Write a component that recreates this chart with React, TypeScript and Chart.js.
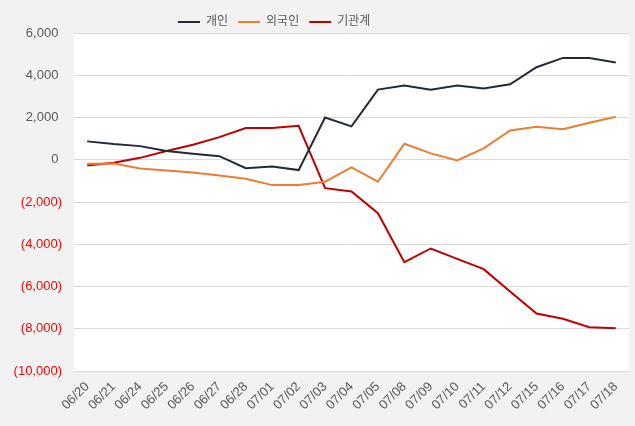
import React, { useEffect, useRef } from "react";
import { Chart, registerables } from "chart.js";

Chart.register(...registerables);

const dates = ["06/20","06/21","06/24","06/25","06/26","06/27","06/28","07/01","07/02","07/03","07/04","07/05","07/08","07/09","07/10","07/11","07/12","07/15","07/16","07/17","07/18"];
const individual = [870, 740, 645, 410, 280, 170, -400, -320, -490, 2000, 1580, 3320, 3520, 3320, 3520, 3370, 3570, 4380, 4820, 4820, 4600];
const foreign = [-190, -175, -410, -505, -600, -740, -900, -1200, -1200, -1040, -365, -1040, 760, 300, -30, 540, 1390, 1560, 1440, 1750, 2040];
const institution = [-270, -140, 90, 410, 710, 1070, 1500, 1500, 1610, -1345, -1500, -2530, -4850, -4200, -4690, -5180, -6240, -7280, -7530, -7930, -7980];
const seriesNames = ["개인", "외국인", "기관계"];
const seriesColors = ["#222a35", "#ed7d31", "#c00000"];

const FONT = "'Liberation Sans', 'Noto Sans CJK KR', sans-serif";

const fmt = (v: number) => {
  const s = Math.abs(v).toLocaleString("en-US");
  return v < 0 ? `(${s})` : v === 0 ? "0 " : `${s} `;
};

export default function App() {
  const ref = useRef<HTMLCanvasElement | null>(null);
  useEffect(() => {
    document.body.style.margin = "0";
    const canvas = ref.current!;
    const bgPlugin = {
      id: "plotBg",
      beforeDraw(chart: any) {
        const { ctx, chartArea } = chart;
        ctx.save();
        ctx.fillStyle = "#ffffff";
        ctx.fillRect(chartArea.left, chartArea.top, chartArea.right - chartArea.left, chartArea.bottom - chartArea.top);
        ctx.restore();
      },
    };
    const legendShift = {
      id: "legendShift",
      afterLayout(chart: any) {
        const lg = chart.legend;
        if (lg) {
          lg.left = 168;
          lg.top += 5;
          lg.bottom += 5;
        }
      },
    };
    const data = [individual, foreign, institution];
    const chart = new Chart(canvas, {
      type: "line",
      data: {
        labels: dates,
        datasets: data.map((d, i) => ({
          label: seriesNames[i],
          data: d,
          borderColor: seriesColors[i],
          backgroundColor: seriesColors[i],
          borderWidth: 2,
          pointRadius: 0,
          tension: 0,
        })),
      },
      options: {
        animation: false,
        responsive: true,
        maintainAspectRatio: false,
        layout: { padding: { top: 1, right: 6, left: 0, bottom: 0 } },
        plugins: {
          tooltip: { enabled: false },
          legend: {
            position: "top",
            align: "start",
            labels: {
              boxWidth: 22,
              boxHeight: 2,
              padding: 10,
              color: "#595959",
              font: { family: FONT, size: 12 },
              generateLabels(chart: any) {
                return chart.data.datasets.map((ds: any, i: number) => ({
                  text: ds.label,
                  fillStyle: ds.borderColor,
                  strokeStyle: ds.borderColor,
                  lineWidth: 0,
                  fontColor: "#595959",
                  datasetIndex: i,
                  hidden: false,
                }));
              },
            },
          },
        },
        scales: {
          x: {
            offset: true,
            grid: { display: false, drawTicks: false },
            border: { display: true, color: "#d9d9d9" },
            ticks: {
              color: "#595959",
              font: { family: FONT, size: 13 },
              maxRotation: 45,
              minRotation: 45,
              autoSkip: false,
              padding: 8,
            },
            afterFit(scale: any) {
              scale.height = 55;
            },
          },
          y: {
            min: -10000,
            max: 6000,
            grid: { color: "#d9d9d9", drawTicks: false },
            border: { display: false },
            ticks: {
              stepSize: 2000,
              padding: 12,
              font: { family: FONT, size: 13 },
              color: (c: any) => (c.tick && c.tick.value < 0 ? "#ff0000" : "#595959"),
              callback: (v: any) => fmt(Number(v)),
            },
            afterFit(scale: any) {
              scale.width = 74;
            },
          },
        },
      },
      plugins: [bgPlugin, legendShift],
    } as any);
    return () => chart.destroy();
  }, []);
  return (
    <div style={{ width: 635, height: 426, background: "#f2f2f2", position: "relative" }}>
      <canvas ref={ref} />
    </div>
  );
}
